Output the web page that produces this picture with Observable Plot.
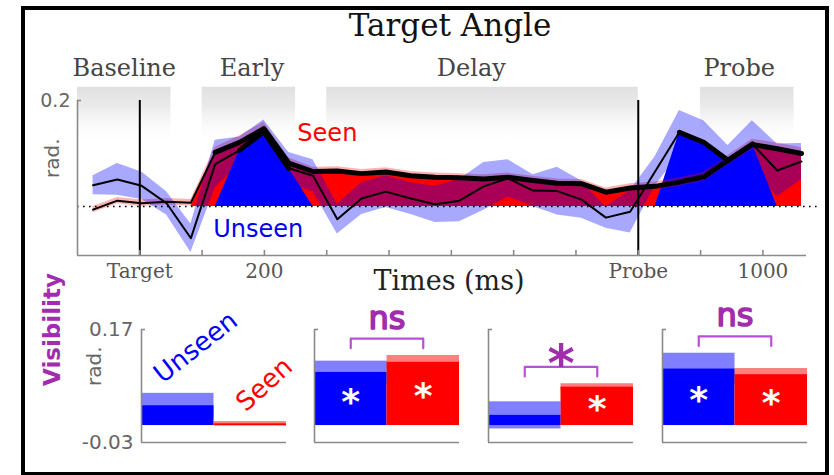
<!DOCTYPE html>
<html><head><meta charset="utf-8">
<script src="https://cdn.jsdelivr.net/npm/d3@7"></script>
<script src="https://cdn.jsdelivr.net/npm/@observablehq/plot@0.6"></script>
<style>
html,body{margin:0;padding:0;background:#fff;}
#root{position:relative;width:834px;height:475px;overflow:hidden;background:#fff;}
#root svg{position:absolute;left:0;overflow:visible;}
#frame{position:absolute;left:21px;top:6px;width:808px;height:470px;border:4px solid #000;box-sizing:border-box;pointer-events:none;}
</style></head>
<body><div id="root"><div id="frame"></div></div>
<script>
// ---------- Time course (top panel) ----------
const times = [-75,-36,3,43,82,121,160,199,239,278,317,356,395,435,474,513,552,591,631,670,709,748,787,827,866,905,944,983,1023,1062];
const seenMean = [-0.006,0.011,0.006,0.009,0.007,0.102,0.121,0.147,0.082,0.066,0.067,0.062,0.065,0.058,0.055,0.054,0.052,0.055,0.049,0.044,0.043,0.027,0.035,0.038,0.046,0.056,0.087,0.117,0.109,0.100];
const seenSem = [0.006,0.006,0.006,0.006,0.006,0.010,0.012,0.012,0.010,0.008,0.008,0.008,0.008,0.008,0.008,0.008,0.008,0.008,0.008,0.008,0.008,0.008,0.008,0.008,0.008,0.008,0.009,0.010,0.011,0.011];
const seenSig = [0,0,0,0,0,1,1,1,1,1,1,1,1,1,1,1,1,1,1,1,1,1,1,1,1,1,1,1,1,1];
const unseenMean = [0.040,0.051,0.039,0.006,-0.060,0.080,0.106,0.141,0.072,0.058,-0.024,0.015,0.028,0.015,0.004,0.011,0.038,0.053,0.030,0.029,0.013,-0.021,-0.010,0.066,0.140,0.121,0.087,0.118,0.068,0.085];
const unseenSem = [0.018,0.030,0.026,0.022,0.027,0.045,0.025,0.022,0.030,0.030,0.028,0.030,0.030,0.030,0.034,0.040,0.045,0.035,0.030,0.045,0.035,0.020,0.040,0.028,0.041,0.041,0.028,0.044,0.050,0.034];
const unseenSig = [0,0,0,0,0,0,1,1,1,0,0,0,0,0,0,0,0,0,0,0,0,0,0,0,1,1,1,1,0,0];

const windowNames = ["Baseline","Early","Delay","Probe"];
const windowStart = [-100,100,300,900];
const windowEnd = [50,250,800,1050];
const windowLabelAt = [-25,180,532,962];

const eventTimes = [0,800];
const xTickValues = [0,200,800,1000];
const xTickLabels = ["Target","200","Probe","1000"];
const xMinorTicks = [0,100,200,300,400,500,600,700,800,900,1000];
const yTickValues = [0.2];
const yTickLabels = ["0.2"];
const xDomain = [-100,1070];
const yDomain = [-0.0925,0.2];

const seriesLabels = ["Seen","Unseen"];
const seriesLabelT = [301,190];
const seriesLabelV = [0.123,-0.058];

// ---------- Bar panels (bottom row) ----------
const periods = ["Baseline","Early","Delay","Probe"];
const conditions = ["Unseen","Seen"];
const barUnseenMean = [0.035,0.094,0.018,0.100];
const barUnseenSem = [0.022,0.020,0.024,0.028];
const barSeenMean = [0.003,0.112,0.068,0.090];
const barSeenSem = [0.004,0.012,0.006,0.011];
const barUnseenStar = [false,true,false,true];
const barSeenStar = [false,true,true,true];
const comparisonLabel = [null,"ns","*","ns"];
const barYDomain = [-0.03,0.17];
const barYTicks = [0.17,-0.03];

// ---------- styles ----------
const SANS = "DejaVu Sans", SERIF = "DejaVu Serif";
const AXIS = "#8a8a8a", PURPLE = "#a12cad", BRACKET = "#b94fd6";
const root = document.getElementById("root");

const rows = times.map((t,i)=>({t, seen:seenMean[i], seenSem:seenSem[i], seenSig:seenSig[i],
  unseen:unseenMean[i], unseenSem:unseenSem[i], unseenSig:unseenSig[i]}));
const windows = windowNames.map((name,i)=>({name, start:windowStart[i], end:windowEnd[i], labelAt:windowLabelAt[i]}));
const labels = seriesLabels.map((label,i)=>({label, t:seriesLabelT[i], v:seriesLabelV[i]}));

const main = Plot.plot({
  width: 834, height: 298,
  marginLeft: 77, marginRight: 28, marginTop: 100, marginBottom: 43,
  x: {domain: xDomain},
  y: {domain: yDomain},
  style: {background: "transparent", overflow: "visible", fontFamily: SANS},
  marks: [
    Plot.rect(windows, {x1: "start", x2: "end", y1: 0.115, y2: 0.225, fill: "url(#winFade)"}),
    Plot.areaY(rows, {x: "t", y1: 0, y2: d => d.seenSig ? d.seen : 0, fill: "#ff0000"}),
    Plot.areaY(rows, {x: "t", y1: 0, y2: d => d.unseenSig ? d.unseen : 0, fill: "#0000ff"}),
    Plot.areaY(rows, {x: "t", y1: d => d.seen - d.seenSem, y2: d => d.seen + d.seenSem, fill: "#ff0000", fillOpacity: 0.3}),
    Plot.areaY(rows, {x: "t", y1: d => d.unseen - d.unseenSem, y2: d => d.unseen + d.unseenSem, fill: "#0000ff", fillOpacity: 0.34}),
    Plot.ruleY([0], {x1: xDomain[0], x2: 1090, stroke: "#000", strokeWidth: 1.6, strokeDasharray: "1.6,4.4"}),
    Plot.ruleX([xDomain[0]], {stroke: AXIS, strokeWidth: 1.6}),
    Plot.ruleY([yDomain[0]], {stroke: AXIS, strokeWidth: 1.6}),
    Plot.ruleX(eventTimes, {stroke: "#000", strokeWidth: 2}),
    Plot.line(rows, {x: "t", y: "seen", stroke: "#000", strokeWidth: 2}),
    Plot.line(rows, {x: "t", y: "unseen", stroke: "#000", strokeWidth: 2}),
    Plot.line(rows, {x: "t", y: d => d.seenSig ? d.seen : NaN, stroke: "#000", strokeWidth: 5}),
    Plot.line(rows, {x: "t", y: d => d.unseenSig ? d.unseen : NaN, stroke: "#000", strokeWidth: 5}),
    Plot.axisY({ticks: yTickValues, tickSize: -4, stroke: AXIS, strokeWidth: 1.6, fill: "none"}),
    Plot.axisY({ticks: yTickValues, tickSize: 0, tickPadding: 7, tickFormat: d => yTickLabels[yTickValues.indexOf(d)],
      fill: "#666", fontSize: 19, fontFamily: SANS, label: null}),
    Plot.axisX({ticks: xMinorTicks, tickSize: -5, stroke: AXIS, strokeWidth: 1.6, fill: "none"}),
    Plot.axisX({ticks: xTickValues, tickSize: 0, tickPadding: 8, tickFormat: d => xTickLabels[xTickValues.indexOf(d)],
      fill: "#555", fontSize: 20, fontFamily: SERIF, label: null}),
    Plot.text(["rad."], {frameAnchor: "left", rotate: -90, dx: -25, fontSize: 20, fill: "#666", fontFamily: SANS}),
    Plot.text(windows, {x: "labelAt", text: "name", frameAnchor: "top", dy: -25, lineAnchor: "bottom",
      fontSize: 24, fontFamily: SERIF, fill: "#454545"}),
    Plot.text(["Target Angle"], {frameAnchor: "top", dx: 8, dy: -65, lineAnchor: "bottom", fontSize: 31, fontFamily: SERIF, fill: "#111"}),
    Plot.text(["Times (ms)"], {frameAnchor: "bottom", dx: 7, dy: 34, lineAnchor: "bottom", fontSize: 27, fontFamily: SERIF, fill: "#222"}),
    Plot.text(labels.filter(d => d.label === "Seen"), {x: "t", y: "v", text: "label", lineAnchor: "bottom", fontSize: 24, fontFamily: SANS, fill: "#ff0000"}),
    Plot.text(labels.filter(d => d.label === "Unseen"), {x: "t", y: "v", text: "label", lineAnchor: "bottom", fontSize: 24, fontFamily: SANS, fill: "#0000ee"})
  ]
});
const defs = document.createElementNS("http://www.w3.org/2000/svg", "defs");
defs.innerHTML = '<linearGradient id="winFade" x1="0" y1="0" x2="0" y2="1"><stop offset="0" stop-color="#e0e0e0"/><stop offset="0.35" stop-color="#ebebeb"/><stop offset="1" stop-color="#ffffff" stop-opacity="0"/></linearGradient>';
main.prepend(defs);
main.style.top = "0px";
root.appendChild(main);

// ---------- bottom panels ----------
const panelLeft = [141,314,488,662];
const panelWidth = 145;
function makePanel(i) {
  const left = panelLeft[i];
  const bars = conditions.map((c, j) => ({
    c, j,
    mean: j === 0 ? barUnseenMean[i] : barSeenMean[i],
    sem: j === 0 ? barUnseenSem[i] : barSeenSem[i],
    star: j === 0 ? barUnseenStar[i] : barSeenStar[i]
  }));
  const maxTop = d3.max(bars, d => d.mean + d.sem);
  const comp = comparisonLabel[i];
  const bracket = comp ? [
    {x: 0.5, y: maxTop + 0.013}, {x: 0.5, y: maxTop + 0.03},
    {x: 1.5, y: maxTop + 0.03}, {x: 1.5, y: maxTop + 0.013}] : [];
  const marks = [
    Plot.rect(bars, {x1: "j", x2: d => d.j + 1, y1: 0, y2: "mean", fill: "c"}),
    Plot.rect(bars, {x1: "j", x2: d => d.j + 1, y1: d => d.mean - d.sem, y2: d => d.mean + d.sem, fill: "c", fillOpacity: 0.5}),
    Plot.ruleX([0], {stroke: AXIS, strokeWidth: 1.6}),
    Plot.ruleY([barYDomain[0]], {stroke: AXIS, strokeWidth: 1.6}),
    Plot.axisY({ticks: [barYTicks[0]], tickSize: -4, stroke: AXIS, strokeWidth: 1.6, fill: "none"}),
    Plot.text(bars.filter(d => d.star), {x: d => d.j + 0.5, y: d => d.mean / 2, text: () => "*",
      fill: "#fff", fontSize: 36, fontWeight: "bold", fontFamily: SANS, dy: 3})
  ];
  if (comp) {
    marks.push(Plot.line(bracket, {x: "x", y: "y", stroke: BRACKET, strokeWidth: 2.2}));
    marks.push(Plot.text([comp], {x: () => 1, y: () => maxTop + 0.03, lineAnchor: "bottom",
      dy: comp === "*" ? 14 : -10, fill: PURPLE, fontFamily: SANS,
      fontSize: comp === "*" ? 52 : 32, fontWeight: comp === "*" ? "bold" : "normal",
      stroke: PURPLE, strokeWidth: comp === "*" ? 0 : 1.6}));
  }
  if (i === 0) {
    marks.push(Plot.axisY({ticks: barYTicks, tickSize: 0, tickPadding: 8, tickFormat: d => d.toFixed(2),
      fill: "#666", fontSize: 20, fontFamily: SANS, label: null}));
    marks.push(Plot.text(["rad."], {frameAnchor: "left", rotate: -90, dx: -47, fontSize: 20, fill: "#666", fontFamily: SANS}));
    marks.push(Plot.text(["Visibility"], {frameAnchor: "left", rotate: -90, dx: -89, fontSize: 23, fontWeight: "bold", fill: PURPLE, fontFamily: SANS}));
    marks.push(Plot.text(bars.filter(d => d.c === "Unseen"), {x: d => d.j + 0.5, y: d => d.mean + d.sem, text: "c",
      rotate: -38, dx: 18, dy: -46, fill: "c", fontSize: 26, fontFamily: SANS}));
    marks.push(Plot.text(bars.filter(d => d.c === "Seen"), {x: d => d.j + 0.5, y: d => d.mean + d.sem, text: "c",
      rotate: -42, dx: 14, dy: -37, fill: "c", fontSize: 26, fontFamily: SANS}));
  }
  const svg = Plot.plot({
    width: 834, height: 177,
    marginLeft: left, marginRight: 834 - left - panelWidth, marginTop: 31, marginBottom: 33,
    x: {domain: [0, 2], axis: null},
    y: {domain: barYDomain},
    color: {domain: conditions, range: ["#0000ff", "#ff0000"]},
    style: {background: "transparent", overflow: "visible", fontFamily: SANS},
    marks
  });
  svg.style.top = "298px";
  root.appendChild(svg);
}
periods.forEach((p, i) => makePanel(i));
</script>
</body></html>
